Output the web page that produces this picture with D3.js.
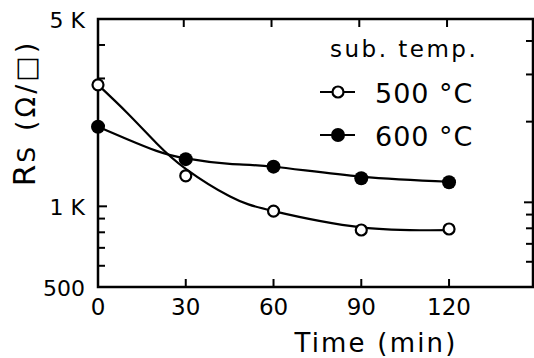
<!DOCTYPE html>
<html>
<head>
<meta charset="utf-8">
<script src="https://cdn.jsdelivr.net/npm/d3@7"></script>
<style>
  body { margin: 0; background: #fff; }
  text { font-family: "DejaVu Sans", sans-serif; fill: #000; }
</style>
</head>
<body>
<script>
// measured points
var times = [0, 30, 60, 90, 120];
var rs500 = [2840, 1300, 960, 816, 823];
var rs600 = [1980, 1500, 1406, 1272, 1230];

// fitted curves as drawn in the figure
var fitT = [0, 10, 20, 30, 45, 60, 90, 120];
var fit500 = [2840, 2230, 1720, 1380, 1090, 960, 835, 815];
var fit600 = [1980, 1780, 1610, 1510, 1440, 1405, 1290, 1235];

var xTicks = [0, 30, 60, 90, 120];
var yMajor = [500, 1000, 5000];
var yMajorLabels = ["500", "1 K", "5 K"];
var yMinor = [600, 700, 800, 900, 2000, 3000, 4000];

var width = 534;
var height = 358;

var svg = d3.select('body')
    .append('svg')
    .attr('width', width)
    .attr('height', height);

var x = d3.scaleLinear().domain([0, 148.7]).range([98, 533]);
var y = d3.scaleLog().domain([500, 5000]).range([287, 19]);

// frame
svg.append("rect")
    .attr("x", x(0))
    .attr("y", y(5000))
    .attr("width", x(148.7) - x(0))
    .attr("height", y(500) - y(5000))
    .attr("fill", "none")
    .attr("stroke", "#000")
    .attr("stroke-width", 2.5);

// inward ticks, bottom and top
var xInner = xTicks.filter(function (d) { return d > 0; });
svg.selectAll(".xtb")
    .data(xInner)
    .enter()
    .append("line")
    .attr("x1", function (d) { return x(d); })
    .attr("x2", function (d) { return x(d); })
    .attr("y1", y(500))
    .attr("y2", y(500) - 8)
    .attr("stroke", "#000")
    .attr("stroke-width", 2);
svg.selectAll(".xtt")
    .data(xInner)
    .enter()
    .append("line")
    .attr("x1", function (d) { return x(d) - 2; })
    .attr("x2", function (d) { return x(d) - 2; })
    .attr("y1", y(5000))
    .attr("y2", y(5000) + 8)
    .attr("stroke", "#000")
    .attr("stroke-width", 2);

// y ticks, left and right
var yAll = [1000].concat(yMinor);
svg.selectAll(".ytl")
    .data(yAll)
    .enter()
    .append("line")
    .attr("x1", x(0))
    .attr("x2", function (d) { return x(0) + (d === 1000 ? 9 : 7); })
    .attr("y1", function (d) { return y(d); })
    .attr("y2", function (d) { return y(d); })
    .attr("stroke", "#000")
    .attr("stroke-width", 2);
svg.selectAll(".ytr")
    .data(yAll)
    .enter()
    .append("line")
    .attr("x1", x(148.7))
    .attr("x2", function (d) { return x(148.7) - (d === 1000 ? 9 : 7); })
    .attr("y1", function (d) { return y(d) - 4; })
    .attr("y2", function (d) { return y(d) - 4; })
    .attr("stroke", "#000")
    .attr("stroke-width", 2);

// tick labels
svg.selectAll(".xl")
    .data(xTicks)
    .enter()
    .append("text")
    .text(function (d) { return d; })
    .attr("x", function (d) { return x(d); })
    .attr("y", 315)
    .attr("text-anchor", "middle")
    .attr("font-size", "23px");

svg.selectAll(".yl")
    .data(yMajor)
    .enter()
    .append("text")
    .text(function (d, i) { return yMajorLabels[i]; })
    .attr("x", 85)
    .attr("y", function (d) { return y(d) + 9; })
    .attr("text-anchor", "end")
    .attr("font-size", "22px");

// axis titles
svg.append("text")
    .text("Time (min)")
    .attr("x", 376)
    .attr("y", 352)
    .attr("text-anchor", "middle")
    .attr("font-size", "26px")
    .attr("letter-spacing", "2.2px");

var yt = svg.append("text")
    .attr("transform", "translate(35,113) rotate(-90)")
    .attr("text-anchor", "middle")
    .attr("font-size", "31px");
yt.append("tspan").text("R");
yt.append("tspan").text("S").attr("font-size", "25px").attr("dx", 2);
yt.append("tspan").text("(Ω/□)").attr("font-size", "27px").attr("dx", 16)
    .attr("letter-spacing", "3px");

// curves
var line = d3.line()
    .x(function (d) { return x(d[0]); })
    .y(function (d) { return y(d[1]); })
    .curve(d3.curveNatural);

svg.append("path")
    .datum(d3.zip(fitT, fit500))
    .attr("d", line)
    .attr("fill", "none")
    .attr("stroke", "#000")
    .attr("stroke-width", 2.2);

svg.append("path")
    .datum(d3.zip(fitT, fit600))
    .attr("d", line)
    .attr("fill", "none")
    .attr("stroke", "#000")
    .attr("stroke-width", 2.2);

// markers
svg.selectAll(".p600")
    .data(d3.zip(times, rs600))
    .enter()
    .append("circle")
    .attr("cx", function (d) { return x(d[0]); })
    .attr("cy", function (d) { return y(d[1]); })
    .attr("r", 7)
    .attr("fill", "#000");

svg.selectAll(".p500")
    .data(d3.zip(times, rs500))
    .enter()
    .append("circle")
    .attr("cx", function (d) { return x(d[0]); })
    .attr("cy", function (d) { return y(d[1]); })
    .attr("r", 5.5)
    .attr("fill", "#fff")
    .attr("stroke", "#000")
    .attr("stroke-width", 2.2);

// legend
svg.append("text")
    .text("sub. temp.")
    .attr("x", 330)
    .attr("y", 57)
    .attr("font-size", "23px")
    .attr("letter-spacing", "2.5px");

var legend = [
    { label: "500 °C", filled: false, y: 92 },
    { label: "600 °C", filled: true, y: 135 }
];
legend.forEach(function (e) {
    svg.append("line")
        .attr("x1", 320).attr("x2", 355)
        .attr("y1", e.y).attr("y2", e.y)
        .attr("stroke", "#000")
        .attr("stroke-width", 2.2);
    svg.append("circle")
        .attr("cx", 338)
        .attr("cy", e.y)
        .attr("r", e.filled ? 7 : 5.5)
        .attr("fill", e.filled ? "#000" : "#fff")
        .attr("stroke", "#000")
        .attr("stroke-width", e.filled ? 0 : 2.2);
    svg.append("text")
        .text(e.label)
        .attr("x", 375)
        .attr("y", e.y + 11)
        .attr("font-size", "27px")
        .attr("letter-spacing", "1px");
});
</script>
</body>
</html>
